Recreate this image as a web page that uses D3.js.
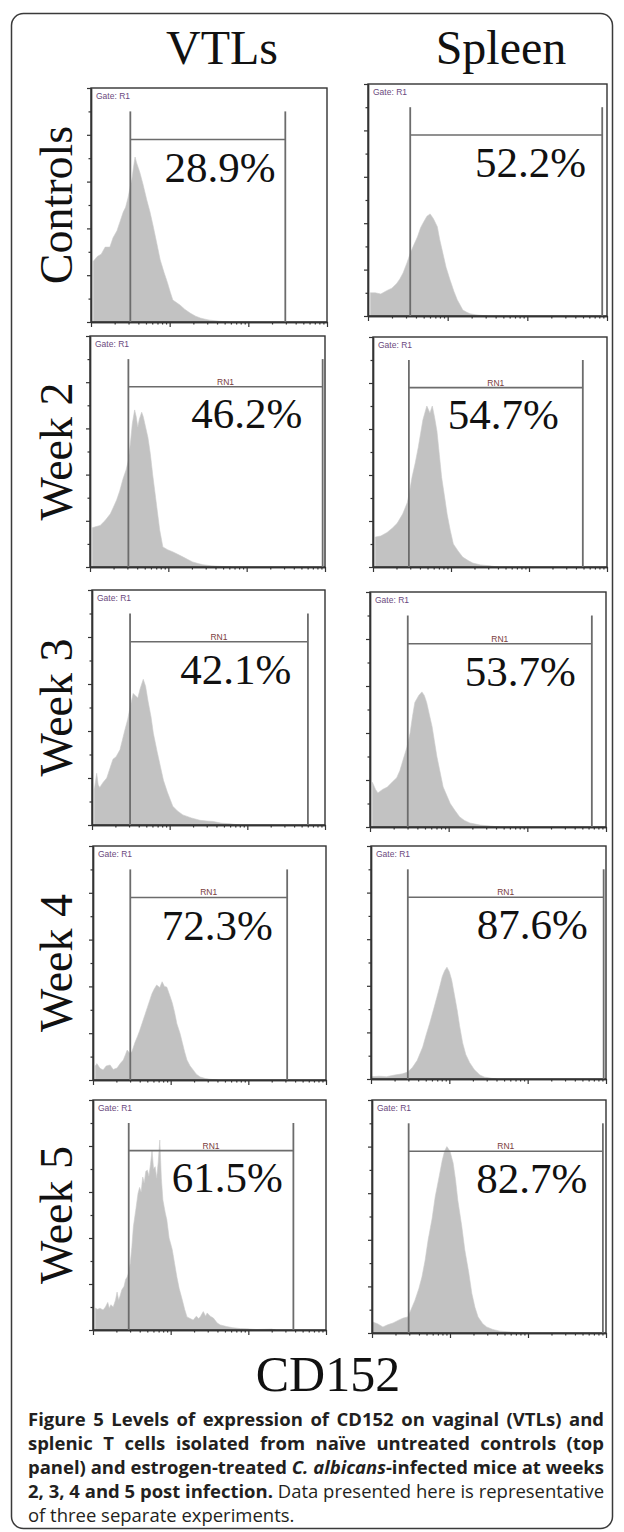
<!DOCTYPE html>
<html><head><meta charset="utf-8">
<script src="https://cdn.jsdelivr.net/npm/d3@7"></script>
<style>body{margin:0;background:#fff} svg{display:block}</style>
</head><body>
<svg id="chart" width="624" height="1532"></svg>
<script>
// ---------------- DATA ----------------
const columns = ["VTLs", "Spleen"];
const rowLabels = ["Controls", "Week 2", "Week 3", "Week 4", "Week 5"];
const percents = [[28.9, 52.2], [46.2, 54.7], [42.1, 53.7], [72.3, 87.6], [61.5, 82.7]];
// gate bounds in log decades of CD152 fluorescence
const gateLow  = [[0.50, 0.53], [0.49, 0.46], [0.49, 0.48], [0.48, 0.47], [0.46, 0.47]];
const gateHigh = [[2.47, 2.94], [2.97, 2.69], [2.78, 2.82], [2.50, 2.97], [2.58, 2.96]];
const gateNames = [["", ""], ["RN1", "RN1"], ["RN1", "RN1"], ["RN1", "RN1"], ["RN1", "RN1"]];
const gateTopCount = 9.0, gateBarCount = 7.8;
// where the percent annotation sits (decade, count)
const labelAt = [[1.64, 2.04], [2.0, 1.67], [1.85, 1.91], [1.6, 2.06], [1.73, 2.05]];
const labelCount = 6.0;
const decadeTicks = [0, 1, 2, 3];
const countTicks = [0, 1, 2, 3, 4, 5, 6, 7, 8, 9, 10];

// histograms: [log decade, relative count]
const vtlControls = [[0.03,2.6],[0.08,2.8],[0.13,2.9],[0.18,3.2],[0.24,3.2],[0.28,3.6],[0.33,3.9],[0.37,4.3],[0.41,4.7],[0.44,4.9],[0.47,5.3],[0.50,5.8],[0.52,6.1],[0.54,6.6],[0.56,7.05],[0.58,6.8],[0.62,6.4],[0.66,5.9],[0.71,5.2],[0.75,4.7],[0.79,4.1],[0.84,3.3],[0.88,2.65],[0.93,2.1],[0.97,1.7],[1.01,1.25],[1.04,0.94],[1.09,0.82],[1.13,0.73],[1.19,0.55],[1.26,0.38],[1.33,0.25],[1.39,0.17],[1.45,0.12],[1.51,0.08],[1.64,0.03],[1.75,0]];
const spleenControls = [[0.03,1.0],[0.09,1.0],[0.16,0.95],[0.24,1.1],[0.30,1.2],[0.36,1.4],[0.40,1.6],[0.44,1.85],[0.49,2.3],[0.53,2.7],[0.58,3.1],[0.62,3.4],[0.66,3.8],[0.69,4.0],[0.74,4.3],[0.78,4.4],[0.82,4.2],[0.87,3.85],[0.90,3.3],[0.94,2.7],[0.98,2.1],[1.03,1.55],[1.08,1.05],[1.12,0.7],[1.16,0.45],[1.19,0.26],[1.24,0.16],[1.28,0.1],[1.35,0.05],[1.41,0.03],[1.5,0]];
const vtlWeek2 = [[0.03,1.7],[0.08,1.75],[0.13,1.8],[0.19,2.0],[0.26,2.3],[0.30,2.6],[0.34,2.9],[0.38,3.3],[0.42,3.8],[0.46,4.2],[0.49,4.6],[0.52,5.5],[0.54,6.2],[0.57,6.8],[0.59,6.5],[0.61,6.06],[0.63,6.4],[0.66,6.7],[0.68,6.5],[0.70,6.2],[0.74,5.6],[0.77,4.9],[0.80,4.0],[0.83,3.2],[0.86,2.4],[0.89,1.6],[0.93,0.87],[0.99,0.75],[1.06,0.65],[1.12,0.55],[1.19,0.43],[1.25,0.32],[1.31,0.22],[1.38,0.15],[1.44,0.1],[1.55,0.05],[1.66,0.03],[1.8,0]];
const spleenWeek2 = [[0.03,1.3],[0.10,1.35],[0.18,1.5],[0.25,1.7],[0.31,1.9],[0.38,2.3],[0.44,2.8],[0.47,3.3],[0.50,3.9],[0.54,4.5],[0.58,5.2],[0.61,5.8],[0.64,6.4],[0.69,7.0],[0.73,6.7],[0.76,7.0],[0.79,6.5],[0.82,5.9],[0.85,4.9],[0.88,3.9],[0.92,3.0],[0.95,2.3],[0.99,1.6],[1.03,1.0],[1.09,0.7],[1.15,0.43],[1.22,0.28],[1.28,0.17],[1.38,0.09],[1.5,0.05],[1.6,0]];
const vtlWeek3 = [[0.03,1.5],[0.06,2.2],[0.08,1.7],[0.10,1.6],[0.14,1.8],[0.19,2.0],[0.23,2.4],[0.27,2.8],[0.31,2.9],[0.36,3.2],[0.39,3.6],[0.42,4.0],[0.46,4.5],[0.49,5.0],[0.53,5.6],[0.56,5.5],[0.59,5.4],[0.62,5.8],[0.64,6.0],[0.66,6.2],[0.69,5.9],[0.72,5.3],[0.76,4.6],[0.79,3.9],[0.84,3.1],[0.88,2.5],[0.92,1.9],[0.97,1.4],[1.04,0.8],[1.10,0.6],[1.17,0.43],[1.28,0.3],[1.39,0.2],[1.48,0.17],[1.56,0.15],[1.66,0.08],[1.78,0.05],[1.9,0]];
const spleenWeek3 = [[0.03,1.9],[0.07,1.6],[0.10,1.45],[0.16,1.6],[0.22,1.7],[0.28,1.9],[0.34,2.1],[0.38,2.4],[0.42,2.85],[0.47,3.4],[0.51,4.0],[0.54,4.7],[0.57,5.3],[0.62,5.6],[0.66,5.75],[0.69,5.6],[0.72,5.3],[0.79,4.26],[0.85,3.0],[0.93,1.7],[1.02,1.0],[1.08,0.7],[1.14,0.43],[1.2,0.28],[1.27,0.17],[1.4,0.08],[1.53,0.04],[1.65,0]];
const vtlWeek4 = [[0.03,0.6],[0.05,0.7],[0.09,0.5],[0.13,0.43],[0.17,0.6],[0.22,0.64],[0.26,0.45],[0.31,0.51],[0.35,0.7],[0.39,0.85],[0.42,1.1],[0.44,1.28],[0.47,1.15],[0.50,1.2],[0.54,1.6],[0.57,1.84],[0.60,2.1],[0.63,2.4],[0.67,2.8],[0.70,3.1],[0.73,3.4],[0.76,3.7],[0.79,3.9],[0.82,4.06],[0.86,3.95],[0.89,4.2],[0.92,4.0],[0.95,3.97],[0.99,3.6],[1.02,3.3],[1.05,2.9],[1.08,2.4],[1.12,2.0],[1.15,1.6],[1.18,1.2],[1.21,0.85],[1.25,0.6],[1.29,0.43],[1.33,0.25],[1.38,0.13],[1.45,0.06],[1.51,0.03],[1.6,0]];
const spleenWeek4 = [[0.01,0.1],[0.1,0.12],[0.2,0.1],[0.24,0.13],[0.32,0.18],[0.40,0.22],[0.47,0.3],[0.53,0.5],[0.59,0.8],[0.66,1.37],[0.70,1.85],[0.75,2.4],[0.80,3.0],[0.84,3.5],[0.88,4.0],[0.91,4.4],[0.94,4.65],[0.97,4.8],[1.0,4.6],[1.03,4.25],[1.06,3.7],[1.10,2.96],[1.13,2.3],[1.17,1.55],[1.21,1.05],[1.26,0.7],[1.32,0.4],[1.39,0.17],[1.45,0.08],[1.52,0.04],[1.6,0]];
const vtlWeek5 = [[0.03,0.95],[0.06,0.9],[0.09,0.95],[0.13,0.87],[0.16,1.0],[0.19,1.2],[0.21,0.95],[0.23,1.1],[0.26,1.0],[0.29,1.3],[0.31,1.65],[0.33,1.3],[0.35,1.5],[0.37,1.74],[0.40,1.9],[0.42,2.2],[0.44,2.3],[0.46,2.5],[0.48,2.9],[0.50,3.6],[0.52,4.5],[0.55,5.2],[0.58,5.95],[0.60,6.2],[0.62,6.0],[0.64,6.65],[0.66,6.4],[0.68,6.9],[0.70,6.95],[0.72,6.7],[0.74,7.2],[0.76,7.8],[0.78,7.0],[0.80,7.1],[0.82,6.6],[0.84,7.3],[0.86,8.26],[0.88,6.6],[0.90,5.65],[0.93,5.1],[0.95,4.8],[0.98,4.0],[1.02,3.5],[1.05,2.9],[1.08,2.3],[1.11,1.8],[1.15,1.3],[1.18,0.9],[1.21,0.57],[1.25,0.5],[1.29,0.43],[1.33,0.6],[1.36,0.5],[1.38,0.57],[1.42,0.8],[1.45,0.6],[1.47,0.74],[1.51,0.6],[1.55,0.52],[1.60,0.3],[1.64,0.22],[1.72,0.15],[1.80,0.1],[1.9,0.06],[1.98,0.05],[2.1,0.02],[2.3,0.04],[2.35,0]];
const spleenWeek5 = [[0.01,0.47],[0.07,0.4],[0.14,0.26],[0.20,0.35],[0.27,0.43],[0.34,0.55],[0.40,0.64],[0.46,0.69],[0.50,1.0],[0.55,1.4],[0.60,1.9],[0.64,2.4],[0.68,3.1],[0.72,4.0],[0.77,4.9],[0.81,5.84],[0.86,6.7],[0.90,7.4],[0.93,7.8],[0.96,8.0],[1.00,7.8],[1.04,7.3],[1.07,6.6],[1.10,5.7],[1.15,4.6],[1.19,3.56],[1.24,2.6],[1.28,1.7],[1.32,1.1],[1.36,0.69],[1.42,0.4],[1.47,0.26],[1.55,0.15],[1.64,0.08],[1.78,0.04],[1.9,0.02],[2.0,0]];
const histograms = [
  [vtlControls, spleenControls],
  [vtlWeek2, spleenWeek2],
  [vtlWeek3, spleenWeek3],
  [vtlWeek4, spleenWeek4],
  [vtlWeek5, spleenWeek5]
];
const xAxisTitle = "CD152";
const captionLines = [
  [{t:"Figure 5 Levels of expression of CD152 on vaginal (VTLs) and", b:true}],
  [{t:"splenic T cells isolated from naïve untreated controls (top", b:true}],
  [{t:"panel) and estrogen-treated ", b:true},{t:"C. albicans", b:true, i:true},{t:"-infected mice at weeks", b:true}],
  [{t:"2, 3, 4 and 5 post infection.", b:true},{t:" Data presented here is representative", b:false}],
  [{t:"of three separate experiments.", b:false}]
];

// ---------------- LAYOUT ----------------
const boxes = [
  [[91, 88, 236, 234], [368, 84, 239, 232]],
  [[90, 336, 235, 231], [373, 337, 234, 230]],
  [[92, 590, 233, 235], [370, 592, 236, 235]],
  [[93, 846, 233, 234], [371, 846, 235, 233]],
  [[93, 1100, 233, 230], [372, 1100, 234, 233]]
];
const serif = "'Liberation Serif','Times New Roman',Times,serif";
const sans = "'Open Sans','Noto Sans',sans-serif";

const svg = d3.select("#chart");
svg.append("rect").attr("width", 624).attr("height", 1532).attr("fill", "#fff");
svg.append("rect").attr("x", 11.5).attr("y", 13.5).attr("width", 601).attr("height", 1515)
  .attr("rx", 12).attr("fill", "none").attr("stroke", "#3a3a3a").attr("stroke-width", 1.5);

// column titles
const titleX = [222, 501];
columns.forEach((c, i) => {
  svg.append("text").attr("x", titleX[i]).attr("y", 64).attr("text-anchor", "middle")
    .attr("font-family", serif).attr("font-size", 48).attr("fill", "#111").text(c);
});

const minorTicks = [];
decadeTicks.slice(0, -1).forEach(d => { for (let k = 2; k <= 9; k++) minorTicks.push(d + Math.log10(k)); });

rowLabels.forEach((lab, r) => {
  const cy = boxes[r][0][1] + boxes[r][0][3] / 2;
  svg.append("text").attr("transform", `translate(72,${cy}) rotate(-90)`)
    .attr("text-anchor", "middle").attr("font-family", serif).attr("font-size", 46)
    .attr("fill", "#111").text(lab);

  [0, 1].forEach(c => {
    const [L, T, W, H] = boxes[r][c];
    const x = d3.scaleLinear().domain([0, 3]).range([L, L + W]);
    const y = d3.scaleLinear().domain([0, 10]).range([T + H, T]);
    const g = svg.append("g");

    // histogram
    const area = d3.area().x(d => x(d[0])).y0(y(0)).y1(d => y(d[1])).curve(d3.curveLinear);
    g.append("path").datum(histograms[r][c]).attr("d", area)
      .attr("fill", "#c2c2c2").attr("stroke", "#cbcbcb").attr("stroke-width", 0.6);

    // frame
    g.append("rect").attr("x", L).attr("y", T).attr("width", W).attr("height", H)
      .attr("fill", "none").attr("stroke", "#333").attr("stroke-width", 1.4);

    // axes
    const styleAxis = sel => { sel.select(".domain").attr("stroke", "#333").attr("stroke-width", 1.4);
      sel.selectAll(".tick line").attr("stroke", "#333").attr("stroke-width", 1.2); };
    g.append("g").attr("transform", `translate(0,${T + H})`)
      .call(d3.axisBottom(x).tickValues(decadeTicks).tickSize(5).tickSizeOuter(0).tickFormat(""))
      .call(styleAxis);
    g.append("g").attr("transform", `translate(0,${T + H})`)
      .call(d3.axisBottom(x).tickValues(minorTicks).tickSize(2.5).tickSizeOuter(0).tickFormat(""))
      .call(styleAxis);
    g.append("g").attr("transform", `translate(${L},0)`)
      .call(d3.axisLeft(y).tickValues(countTicks.filter(v => v % 2 === 0)).tickSize(4).tickSizeOuter(0).tickFormat(""))
      .call(styleAxis);
    g.append("g").attr("transform", `translate(${L},0)`)
      .call(d3.axisLeft(y).tickValues(countTicks.filter(v => v % 2 === 1)).tickSize(2.5).tickSizeOuter(0).tickFormat(""))
      .call(styleAxis);

    // gate
    const gl = x(gateLow[r][c]), gh = x(gateHigh[r][c]);
    const gateColor = "#6c6c6c";
    g.append("line").attr("x1", gl).attr("x2", gl).attr("y1", y(gateTopCount)).attr("y2", y(0))
      .attr("stroke", gateColor).attr("stroke-width", 1.8);
    g.append("line").attr("x1", gh).attr("x2", gh).attr("y1", y(gateTopCount)).attr("y2", y(0))
      .attr("stroke", gateColor).attr("stroke-width", 1.8);
    g.append("line").attr("x1", gl).attr("x2", gh).attr("y1", y(gateBarCount)).attr("y2", y(gateBarCount))
      .attr("stroke", gateColor).attr("stroke-width", 1.6);
    if (gateNames[r][c]) {
      g.append("text").attr("x", (gl + gh) / 2).attr("y", y(gateBarCount) - 2)
        .attr("text-anchor", "middle").attr("font-family", "'Liberation Sans',Arial,sans-serif")
        .attr("font-size", 8.5).attr("fill", "#7a3d3d").text(gateNames[r][c]);
    }
    g.append("text").attr("x", L + 5).attr("y", T + 11)
      .attr("font-family", "'Liberation Sans',Arial,sans-serif").attr("font-size", 8.5)
      .attr("fill", "#6a4a7e").text("Gate: R1");

    // percent
    g.append("text").attr("x", x(labelAt[r][c])).attr("y", y(labelCount))
      .attr("text-anchor", "middle").attr("font-family", serif).attr("font-size", 43)
      .attr("fill", "#111").text(d3.format(".1f")(percents[r][c]) + "%");
  });
});

// x axis title
svg.append("text").attr("x", 328).attr("y", 1391).attr("text-anchor", "middle")
  .attr("font-family", serif).attr("font-size", 50).attr("fill", "#111").text(xAxisTitle);

// caption
const capX = 28, capW = 576, capY0 = 1426, capDY = 24;
const texts = captionLines.map((line, i) => {
  const t = svg.append("text").attr("x", capX).attr("y", capY0 + i * capDY)
    .attr("font-family", sans).attr("font-size", 17).attr("fill", "#231f20");
  line.forEach(seg => {
    t.append("tspan").text(seg.t).attr("font-weight", seg.b ? 700 : 400)
      .attr("font-style", seg.i ? "italic" : "normal");
  });
  return t;
});
// largest font size at which every justified line still fits the column
const fs = d3.min(texts.slice(0, 4), t => 17 * capW / t.node().getComputedTextLength());
texts.forEach((t, i) => {
  t.attr("font-size", fs);
  if (i < captionLines.length - 1) {
    const len = t.node().getComputedTextLength();
    const spaces = captionLines[i].map(s => s.t).join("").split(" ").length - 1;
    t.attr("word-spacing", Math.max(0, (capW - len) / spaces));
  }
});
</script>
</body></html>
